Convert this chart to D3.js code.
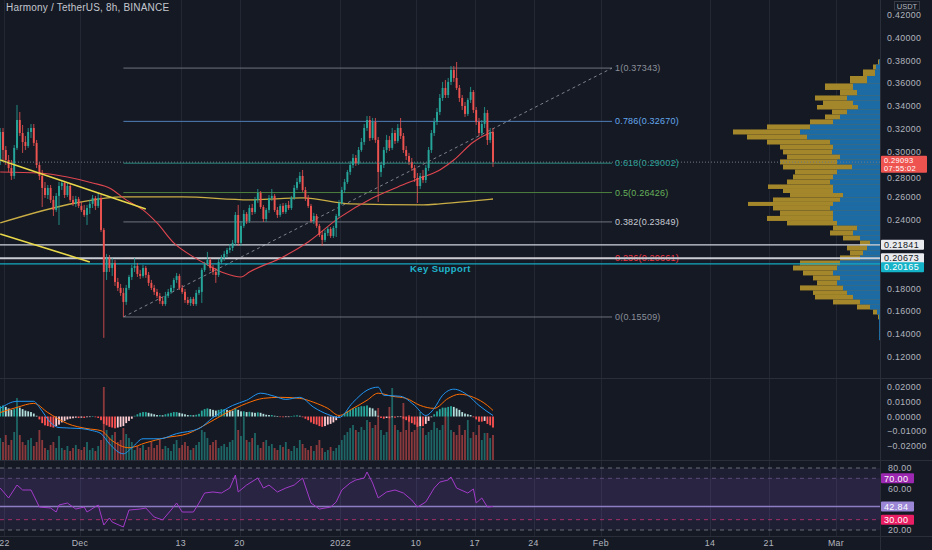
<!DOCTYPE html>
<html>
<head>
<meta charset="utf-8">
<script src="https://cdn.jsdelivr.net/npm/d3@7"></script>
<style>
html, body { margin: 0; padding: 0; background: #151924; }
svg { display: block; font-family: "Liberation Sans", Arial, sans-serif; }
</style>
</head>
<body>
<svg id="grafico" width="932" height="550"></svg>
<script>
// ---- dados ----
const titulo = "Harmony / TetherUS, 8h, BINANCE";
const inicio = new Date(2021, 10, 21, 12); // primeira vela (8h)

// [abertura, máxima, mínima, fechamento]
const velas = [
  [0.2928,0.3209,0.2884,0.3174],[0.3174,0.3209,0.2928,0.3016],[0.3016,0.3051,0.2884,0.2928],[0.2928,0.2972,0.2823,0.2858],
  [0.2858,0.2928,0.2753,0.2788],[0.2788,0.3060,0.2762,0.3034],[0.3034,0.3411,0.3016,0.3279],[0.3279,0.3349,0.3139,0.3165],
  [0.3165,0.3235,0.2990,0.3086],[0.3086,0.3139,0.3016,0.3051],[0.3051,0.3209,0.3034,0.3174],[0.3174,0.3244,0.3121,0.3209],
  [0.3209,0.3244,0.3051,0.3078],[0.3078,0.3104,0.2858,0.2884],[0.2884,0.2911,0.2753,0.2788],[0.2788,0.2841,0.2516,0.2683],
  [0.2683,0.2735,0.2595,0.2621],[0.2621,0.2709,0.2586,0.2683],[0.2683,0.2709,0.2551,0.2578],[0.2578,0.2613,0.2437,0.2490],
  [0.2490,0.2639,0.2472,0.2613],[0.2613,0.2735,0.2358,0.2700],[0.2700,0.2753,0.2665,0.2727],[0.2727,0.2744,0.2595,0.2621],
  [0.2621,0.2727,0.2604,0.2700],[0.2700,0.2718,0.2560,0.2578],[0.2578,0.2613,0.2525,0.2543],[0.2543,0.2613,0.2516,0.2586],
  [0.2586,0.2604,0.2507,0.2525],[0.2525,0.2560,0.2472,0.2490],[0.2490,0.2534,0.2429,0.2446],[0.2446,0.2534,0.2358,0.2507],
  [0.2507,0.2578,0.2455,0.2543],[0.2543,0.2621,0.2507,0.2595],[0.2595,0.2613,0.2490,0.2525],[0.2525,0.2639,0.2507,0.2595],
  [0.2595,0.2621,0.2297,0.2315],[0.2315,0.2332,0.1368,0.1946],[0.1946,0.2104,0.1876,0.2069],[0.2069,0.2095,0.1946,0.1981],
  [0.1981,0.2069,0.1911,0.2025],[0.2025,0.2051,0.1823,0.1858],[0.1858,0.1894,0.1779,0.1806],[0.1806,0.1841,0.1736,0.1762],
  [0.1762,0.1806,0.1551,0.1683],[0.1683,0.1832,0.1657,0.1806],[0.1806,0.1920,0.1788,0.1902],[0.1902,0.2008,0.1876,0.1981],
  [0.1981,0.2069,0.1946,0.1999],[0.1999,0.2025,0.1902,0.1929],[0.1929,0.1964,0.1885,0.1911],[0.1911,0.2008,0.1894,0.1981],
  [0.1981,0.1999,0.1894,0.1920],[0.1920,0.1946,0.1823,0.1850],[0.1850,0.1876,0.1788,0.1806],[0.1806,0.1832,0.1744,0.1771],
  [0.1771,0.1797,0.1718,0.1736],[0.1736,0.1762,0.1665,0.1692],[0.1692,0.1727,0.1648,0.1665],[0.1665,0.1771,0.1648,0.1736],
  [0.1736,0.1797,0.1718,0.1771],[0.1771,0.1832,0.1753,0.1806],[0.1806,0.1894,0.1779,0.1876],[0.1876,0.1937,0.1850,0.1911],
  [0.1911,0.1929,0.1788,0.1806],[0.1806,0.1832,0.1753,0.1771],[0.1771,0.1797,0.1674,0.1700],[0.1700,0.1727,0.1657,0.1674],
  [0.1674,0.1727,0.1648,0.1709],[0.1709,0.1727,0.1648,0.1665],[0.1665,0.1788,0.1648,0.1762],[0.1762,0.1815,0.1744,0.1788],
  [0.1771,0.1981,0.1674,0.1964],[0.1964,0.2034,0.1946,0.2016],[0.2016,0.2122,0.1999,0.2051],[0.2051,0.2069,0.1955,0.1981],
  [0.1981,0.2008,0.1920,0.1946],[0.1946,0.1981,0.1850,0.1920],[0.1920,0.2060,0.1902,0.2034],[0.2034,0.2095,0.2016,0.2069],
  [0.2069,0.2130,0.2043,0.2104],[0.2104,0.2157,0.2069,0.2139],[0.2139,0.2192,0.2113,0.2157],[0.2157,0.2227,0.2130,0.2201],
  [0.2201,0.2472,0.2174,0.2446],[0.2446,0.2534,0.2174,0.2201],[0.2201,0.2393,0.2174,0.2350],[0.2350,0.2490,0.2332,0.2455],
  [0.2455,0.2472,0.2367,0.2393],[0.2393,0.2534,0.2376,0.2507],[0.2507,0.2543,0.2446,0.2472],[0.2472,0.2604,0.2455,0.2578],
  [0.2578,0.2674,0.2551,0.2639],[0.2639,0.2656,0.2499,0.2516],[0.2516,0.2534,0.2385,0.2411],[0.2411,0.2507,0.2385,0.2490],
  [0.2490,0.2621,0.2464,0.2595],[0.2595,0.2674,0.2569,0.2613],[0.2613,0.2630,0.2472,0.2490],[0.2490,0.2516,0.2420,0.2446],
  [0.2446,0.2543,0.2429,0.2525],[0.2525,0.2551,0.2455,0.2472],[0.2472,0.2551,0.2455,0.2534],[0.2534,0.2569,0.2490,0.2507],
  [0.2507,0.2613,0.2490,0.2595],[0.2595,0.2709,0.2578,0.2683],[0.2683,0.2770,0.2665,0.2735],[0.2735,0.2823,0.2718,0.2788],
  [0.2788,0.2841,0.2648,0.2665],[0.2665,0.2692,0.2569,0.2595],[0.2595,0.2621,0.2507,0.2525],[0.2525,0.2543,0.2376,0.2393],
  [0.2393,0.2464,0.2367,0.2437],[0.2437,0.2455,0.2332,0.2350],[0.2350,0.2367,0.2253,0.2271],[0.2271,0.2306,0.2174,0.2227],
  [0.2227,0.2315,0.2209,0.2288],[0.2288,0.2341,0.2262,0.2323],[0.2323,0.2341,0.2244,0.2262],[0.2262,0.2350,0.2244,0.2332],
  [0.2332,0.2455,0.2253,0.2437],[0.2437,0.2578,0.2420,0.2551],[0.2551,0.2692,0.2534,0.2665],[0.2665,0.2762,0.2639,0.2735],
  [0.2735,0.2841,0.2718,0.2823],[0.2823,0.2920,0.2797,0.2884],[0.2884,0.2981,0.2858,0.2946],[0.2946,0.2972,0.2876,0.2902],
  [0.2902,0.3042,0.2884,0.3016],[0.3016,0.3121,0.2999,0.3086],[0.3086,0.3244,0.3060,0.3209],[0.3209,0.3314,0.3183,0.3279],
  [0.3279,0.3314,0.3095,0.3121],[0.3121,0.3297,0.3104,0.3262],[0.3262,0.3297,0.3078,0.3104],[0.3104,0.3130,0.2560,0.2823],
  [0.2823,0.2911,0.2779,0.2884],[0.2884,0.3042,0.2858,0.3016],[0.3016,0.3148,0.2990,0.3104],[0.3104,0.3139,0.3007,0.3034],
  [0.3034,0.3209,0.3016,0.3165],[0.3165,0.3191,0.3069,0.3095],[0.3095,0.3244,0.3078,0.3209],[0.3209,0.3297,0.3113,0.3139],
  [0.3139,0.3165,0.2990,0.3016],[0.3016,0.3051,0.2928,0.2963],[0.2963,0.2990,0.2884,0.2911],[0.2911,0.2946,0.2832,0.2858],
  [0.2858,0.2884,0.2735,0.2770],[0.2770,0.2814,0.2551,0.2700],[0.2700,0.2814,0.2674,0.2788],[0.2788,0.2841,0.2727,0.2753],
  [0.2753,0.2884,0.2727,0.2858],[0.2858,0.3042,0.2832,0.3016],[0.3016,0.3191,0.2990,0.3165],[0.3165,0.3297,0.3139,0.3262],
  [0.3262,0.3384,0.3235,0.3349],[0.3349,0.3507,0.3323,0.3472],[0.3472,0.3613,0.3446,0.3560],[0.3560,0.3630,0.3472,0.3498],
  [0.3498,0.3648,0.3472,0.3613],[0.3613,0.3753,0.3586,0.3718],[0.3718,0.3753,0.3613,0.3648],[0.3648,0.3788,0.3542,0.3560],
  [0.3560,0.3586,0.3437,0.3472],[0.3472,0.3498,0.3367,0.3402],[0.3402,0.3437,0.3306,0.3332],[0.3332,0.3472,0.3314,0.3455],
  [0.3455,0.3569,0.3428,0.3525],[0.3525,0.3542,0.3341,0.3367],[0.3367,0.3393,0.3235,0.3262],[0.3262,0.3297,0.3139,0.3165],
  [0.3165,0.3279,0.3139,0.3244],[0.3244,0.3393,0.3209,0.3341],[0.3341,0.3367,0.3060,0.3104],[0.3104,0.3209,0.3078,0.3174],
  [0.3174,0.3209,0.2867,0.29093]
];

const volumes = [
  22,18,25,15,20,28,62,25,18,15,20,22,14,18,30,20,12,10,15,18,12,24,
  12,10,14,9,12,15,11,10,13,18,10,12,9,14,20,73,30,22,25,28,18,20,32,26,22,18,
  10,14,12,15,10,13,18,12,15,20,11,14,12,9,16,20,12,15,18,14,10,12,15,18,
  30,28,22,15,18,20,12,14,16,13,18,20,52,30,24,43,
  20,18,22,27,15,12,18,20,14,16,12,10,15,13,18,11,9,14,12,20,
  16,12,10,14,9,15,20,12,8,10,13,9,12,15,20,25,28,32,
  35,30,28,33,30,40,38,32,35,52,30,25,28,53,72,35,30,28,57,30,45,28,30,38,48,
  32,25,28,30,38,32,30,35,52,48,30,28,25,35,25,30,40,22,28,25,35,20,27,27,22,25
];

const macdHist = [
  0.0070,0.0075,0.0065,0.0055,0.0045,0.0050,0.0065,0.0060,0.0050,0.0040,
  0.0035,0.0030,0.0020,0.0005,-0.0020,-0.0045,-0.0060,-0.0065,-0.0070,-0.0075,
  -0.0065,-0.0055,-0.0040,-0.0030,-0.0020,-0.0015,-0.0012,-0.0008,-0.0010,-0.0008,
  -0.0010,-0.0005,-0.0003,0.0003,-0.0005,-0.0010,-0.0025,-0.0050,-0.0060,-0.0070,
  -0.0075,-0.0080,-0.0075,-0.0070,-0.0065,-0.0045,-0.0030,-0.0015,0.0005,0.0015,
  0.0025,0.0030,0.0030,0.0025,0.0020,0.0015,0.0010,0.0010,0.0008,0.0015,
  0.0020,0.0025,0.0030,0.0030,0.0025,0.0020,0.0015,0.0010,0.0010,0.0008,
  0.0012,0.0018,0.0040,0.0050,0.0055,0.0050,0.0045,0.0040,0.0045,0.0050,
  0.0050,0.0045,0.0042,0.0040,0.0055,0.0045,0.0035,0.0035,0.0030,0.0032,
  0.0028,0.0025,0.0028,0.0025,0.0018,0.0012,0.0010,0.0010,0.0005,0.0002,
  -0.0003,-0.0005,-0.0003,-0.0002,0.0002,0.0006,0.0008,0.0005,-0.0005,-0.0015,
  -0.0025,-0.0040,-0.0050,-0.0055,-0.0065,-0.0070,-0.0065,-0.0055,-0.0050,-0.0040,
  -0.0025,-0.0010,0.0005,0.0020,0.0035,0.0045,0.0055,0.0060,0.0065,0.0070,
  0.0070,0.0075,0.0060,0.0055,0.0040,0.0005,-0.0010,-0.0015,-0.0010,-0.0012,
  -0.0005,-0.0008,-0.0003,-0.0002,-0.0015,-0.0025,-0.0035,-0.0045,-0.0055,-0.0070,
  -0.0065,-0.0065,-0.0050,-0.0030,-0.0005,0.0015,0.0035,0.0050,0.0060,0.0060,
  0.0065,0.0070,0.0065,0.0055,0.0045,0.0030,0.0020,0.0015,0.0010,-0.0005,
  -0.0020,-0.0035,-0.0035,-0.0030,-0.0050,-0.0060,-0.0075
];

const macdIdx = [0,6,12,14,18,21,29,33,36,39,44,47,51,57,63,71,76,83,88,93,98,102,107,112,117,121,126,131,135,137,143,148,152,155,158,162,167,171,176];
const macdVal = [0.0055,0.0103,0.0103,0.0062,-0.0041,-0.0075,-0.0082,-0.0096,-0.0116,-0.0185,-0.0253,-0.0212,-0.0151,-0.0151,-0.0116,-0.0082,-0.0007,0.0075,0.0110,0.0158,0.0137,0.0116,0.0130,0.0062,0.0014,-0.0007,0.0096,0.0178,0.0199,0.0144,0.0137,0.0075,0.0007,0.0055,0.0144,0.0185,0.0144,0.0075,0.0007];
const sinalIdx = [0,6,12,17,24,31,36,40,46,52,59,67,74,81,88,94,100,107,112,117,121,126,131,135,140,145,150,155,160,164,169,174,176];
const sinalVal = [0.0027,0.0062,0.0089,0.0027,-0.0048,-0.0082,-0.0096,-0.0164,-0.0212,-0.0178,-0.0144,-0.0116,-0.0048,0.0027,0.0089,0.0123,0.0130,0.0123,0.0096,0.0055,0.0007,0.0055,0.0110,0.0158,0.0137,0.0123,0.0075,0.0055,0.0123,0.0151,0.0130,0.0075,0.0041];

const rsiIdx = [0,3,6,8,11,14,18,20,21,24,27,30,31,35,37,39,40,44,46,50,52,55,58,61,63,65,69,71,73,76,79,82,84,85,88,92,94,96,99,102,105,108,111,114,118,120,122,125,127,130,131,133,135,138,141,144,147,149,152,155,157,160,161,163,167,169,170,172,174,176];
const rsiVal = [60.6,51,63.5,58.7,58.7,42.2,41.3,37.4,44.2,46.1,40.3,42.2,37.4,44.2,24.8,31.6,27.7,22.9,39.3,40.3,41.3,32.6,29.7,39.3,46.1,37.4,37.4,46.1,55.8,56.8,55.8,60.6,73.2,56.8,63.5,70.3,60.6,63.5,56.8,60.6,63.5,70.3,46.1,40.3,42.2,47.1,58.7,65.5,68.4,70.3,76.1,65.5,51,56.8,58.7,55.8,49,42.2,47.1,60.6,66.4,68.4,71.3,60.6,55.8,59.7,46.1,51,42.2,42.84];

const mmVermIdx = [0,14,24,33,39,45,51,56,62,69,74,80,86,89,101,110,121,133,142,150,157,162,169,174,176];
const mmVermVal = [0.2823,0.2814,0.2779,0.2727,0.2683,0.2578,0.2490,0.2376,0.2201,0.2078,0.2008,0.1937,0.1902,0.1946,0.2078,0.2209,0.2420,0.2595,0.2692,0.2770,0.2841,0.2928,0.3086,0.3156,0.3174];
const mmOuroIdx = [0,27,44,65,89,108,125,151,157,169,176];
const mmOuroVal = [0.2376,0.2551,0.2604,0.2604,0.2578,0.2595,0.2543,0.2534,0.2543,0.2569,0.2586];

// Fibonacci
const fibPrecos = [0.15509, 0.20661, 0.23849, 0.26426, 0.29002, 0.32670, 0.37343];
const fibRotulos = ["0(0.15509)", "0.236(0.20661)", "0.382(0.23849)", "0.5(0.26426)", "0.618(0.29002)", "0.786(0.32670)", "1(0.37343)"];
const fibLinhaCor = ["#6c707a", "#b13a45", "#6f737d", "#4d7f3d", "#2a8a7e", "#4f7fb5", "#6f737d"];
const fibTextoCor = ["#8c909a", "#f23645", "#c8ccd4", "#66b15a", "#2aa39a", "#64a8ee", "#8c909a"];
const fibInicioIdx = 44;
const fibFim = new Date(2022, 1, 2, 8);

// linhas desenhadas
const linhasHoriz = [0.21841, 0.20673, 0.20165];
const linhasHorizCor = ["#d1d4dc", "#c9ccd3", "#15a9bf"];
const tendencias = [
  { i0: 0, p0: 0.2928, i1: 52, p1: 0.2499 },
  { i0: 0, p0: 0.2279, i1: 32, p1: 0.2034 }
];

// perfil de volume (preço, total, parte azul)
const perfilPreco = [0.3788,0.3744,0.3700,0.3630,0.3569,0.3516,0.3472,0.3428,0.3393,0.3349,0.3306,0.3262,0.3218,0.3174,0.3130,0.3086,0.3042,0.2999,0.2955,0.2911,0.2867,0.2823,0.2779,0.2735,0.2692,0.2656,0.2621,0.2578,0.2543,0.2507,0.2464,0.2411,0.2376,0.2332,0.2288,0.2244,0.2201,0.2157,0.2113,0.2069,0.2025,0.1981,0.1937,0.1894,0.1850,0.1806,0.1762,0.1727,0.1683,0.1639,0.1595,0.1551,0.1510,0.1460,0.1410,0.1370];
const perfilTotal = [2,7,17,30,55,40,65,57,63,48,55,70,113,147,133,113,100,97,93,100,97,85,87,93,112,97,90,107,132,107,100,113,93,47,50,37,20,33,30,40,80,87,77,67,63,80,67,65,47,23,7,2,1,1,1,1];
const perfilAzul = [1,4,5,13,27,23,33,27,22,33,40,47,70,80,73,50,47,48,40,43,28,43,47,50,47,47,37,40,47,50,47,47,43,23,27,20,10,13,17,20,40,43,47,40,43,37,33,27,20,10,3,1,1,1,1,1];

// eixos
const ticksPreco = [0.42,0.40,0.38,0.36,0.34,0.32,0.30,0.28,0.26,0.24,0.18,0.16,0.14,0.12];
const ticksMacd = [0.02,0.01,0,-0.01,-0.02];
const ticksMacdRotulo = ["0.02000","0.01000","0.00000","\u22120.01000","\u22120.02000"];
const ticksRsi = [80, 60, 20];
const ticksData = [new Date(2021,10,22), new Date(2021,11,1), new Date(2021,11,13), new Date(2021,11,20), new Date(2022,0,1), new Date(2022,0,10), new Date(2022,0,17), new Date(2022,0,24), new Date(2022,1,1), new Date(2022,1,14), new Date(2022,1,21), new Date(2022,2,1)];
const ticksDataRotulo = ["22","Dec","13","20","2022","10","17","24","Feb","14","21","Mar"];

// ---- escalas ----
const svg = d3.select("#grafico");
const xFim = 880;
const sobe = "#26a69a", desce = "#ef5350";
const x = d3.scaleTime().domain([new Date(2021,10,21,12), new Date(2022,2,7)]).range([0.2, 886.4]);
const y = d3.scaleLinear().domain([0.12, 0.42]).range([357, 15]);
const yMacd = d3.scaleLinear().domain([-0.02, 0.02]).range([446, 387]);
const yVol = d3.scaleLinear().domain([0, 100]).range([460, 360]);
const yRsi = d3.scaleLinear().domain([20, 80]).range([530, 468]);
const xPerfil = d3.scaleLinear().domain([0, 150]).range([xFim, xFim - 150]);

const datas = velas.map((d, i) => new Date(inicio.getTime() + i * 8 * 3600 * 1000));
const xi = i => x(new Date(inicio.getTime() + i * 8 * 3600 * 1000));

svg.append("rect").attr("width", 932).attr("height", 550).attr("fill", "#151924");

const defs = svg.append("defs");
function recorte(id, y0, h) {
  defs.append("clipPath").attr("id", id).append("rect").attr("x", 0).attr("y", y0).attr("width", xFim).attr("height", h);
}
recorte("cPreco", 0, 378);
recorte("cMacd", 379, 81);
recorte("cRsi", 461, 75);

// grade vertical
svg.append("g").selectAll("line").data(ticksData).enter().append("line")
  .attr("x1", d => Math.round(x(d)) + 0.5).attr("x2", d => Math.round(x(d)) + 0.5)
  .attr("y1", 0).attr("y2", 536).attr("stroke", "#232734").attr("stroke-width", 1);

// separadores dos painéis
[378.5, 460.5, 536.5].forEach(v => {
  svg.append("line").attr("x1", 0).attr("x2", 932).attr("y1", v).attr("y2", v).attr("stroke", "#2a2e39");
});
svg.append("line").attr("x1", xFim + 0.5).attr("x2", xFim + 0.5).attr("y1", 0).attr("y2", 550).attr("stroke", "#2a2e39");

// ---- painel de preço ----
const gP = svg.append("g").attr("clip-path", "url(#cPreco)");

// perfil de volume
const bordas = perfilPreco.map((p, k) => {
  const acima = k > 0 ? (perfilPreco[k - 1] + p) / 2 : p + 0.0022;
  const abaixo = k < perfilPreco.length - 1 ? (perfilPreco[k + 1] + p) / 2 : p - 0.0022;
  return [y(acima), y(abaixo)];
});
gP.append("g").selectAll("rect").data(perfilPreco).enter().append("rect")
  .attr("x", (d, k) => xPerfil(perfilTotal[k])).attr("y", (d, k) => bordas[k][0])
  .attr("width", (d, k) => xFim - xPerfil(perfilTotal[k])).attr("height", (d, k) => bordas[k][1] - bordas[k][0])
  .attr("fill", "#a4872b");
gP.append("g").selectAll("rect").data(perfilPreco).enter().append("rect")
  .attr("x", (d, k) => xPerfil(perfilAzul[k])).attr("y", (d, k) => bordas[k][0])
  .attr("width", (d, k) => xFim - xPerfil(perfilAzul[k])).attr("height", (d, k) => bordas[k][1] - bordas[k][0])
  .attr("fill", "#1d6ba5");

// Fibonacci
const xFib0 = x(datas[fibInicioIdx]), xFib1 = x(fibFim);
fibPrecos.forEach((p, k) => {
  gP.append("line").attr("x1", xFib0).attr("x2", xFib1).attr("y1", y(p)).attr("y2", y(p))
    .attr("stroke", fibLinhaCor[k]).attr("stroke-width", 1);
  gP.append("text").attr("x", xFib1 + 3).attr("y", y(p) + 3).attr("font-size", 9)
    .attr("fill", fibTextoCor[k]).attr("letter-spacing", 0.2).text(fibRotulos[k]);
});
gP.append("line").attr("x1", xFib0).attr("y1", y(fibPrecos[0])).attr("x2", xFib1).attr("y2", y(fibPrecos[6]))
  .attr("stroke", "#80838d").attr("stroke-width", 1).attr("stroke-dasharray", "3,3");

// linhas horizontais
linhasHoriz.forEach((p, k) => {
  gP.append("line").attr("x1", 0).attr("x2", xFim).attr("y1", y(p)).attr("y2", y(p))
    .attr("stroke", linhasHorizCor[k]).attr("stroke-width", k === 1 ? 2 : 1.3);
});
gP.append("text").attr("x", 410).attr("y", y(0.20165) + 8.5).attr("font-size", 9.5).attr("font-weight", "bold")
  .attr("fill", "#1fb5cc").attr("letter-spacing", 0.4).text("Key Support");

// médias
const linhaMedia = (idx, val) => d3.line().curve(d3.curveMonotoneX).x((d, k) => xi(idx[k])).y((d, k) => y(val[k]))(idx);
gP.append("path").attr("d", linhaMedia(mmOuroIdx, mmOuroVal)).attr("fill", "none").attr("stroke", "#c9ad45").attr("stroke-width", 1.3);
gP.append("path").attr("d", linhaMedia(mmVermIdx, mmVermVal)).attr("fill", "none").attr("stroke", "#e0464f").attr("stroke-width", 1.1);

// velas
const gV = gP.append("g");
gV.selectAll("line").data(velas).enter().append("line")
  .attr("x1", (d, i) => x(datas[i])).attr("x2", (d, i) => x(datas[i]))
  .attr("y1", d => y(d[1])).attr("y2", d => y(d[2]))
  .attr("stroke", d => d[3] >= d[0] ? sobe : desce).attr("stroke-width", 0.8);
gV.selectAll("rect").data(velas).enter().append("rect")
  .attr("x", (d, i) => x(datas[i]) - 0.95).attr("width", 1.9)
  .attr("y", d => y(Math.max(d[0], d[3])))
  .attr("height", d => Math.max(1, Math.abs(y(d[0]) - y(d[3]))))
  .attr("fill", d => d[3] >= d[0] ? sobe : desce);

// linhas de tendência amarelas
tendencias.forEach(t => {
  gP.append("line").attr("x1", xi(t.i0)).attr("y1", y(t.p0)).attr("x2", xi(t.i1)).attr("y2", y(t.p1))
    .attr("stroke", "#e8d84a").attr("stroke-width", 1.6);
});

// linha do último preço
const ultimo = velas[velas.length - 1][3];
gP.append("line").attr("x1", 0).attr("x2", xFim).attr("y1", y(ultimo)).attr("y2", y(ultimo))
  .attr("stroke", "#6f7c84").attr("stroke-width", 1).attr("stroke-dasharray", "1,2");

svg.append("text").attr("x", 6).attr("y", 11).attr("font-size", 10).attr("fill", "#c3c6ce")
  .attr("letter-spacing", 0.2).text(titulo);

// ---- painel MACD ----
const gM = svg.append("g").attr("clip-path", "url(#cMacd)");
gM.selectAll(".vol").data(volumes).enter().append("rect").attr("class", "vol")
  .attr("x", (d, i) => xi(i) - 0.9).attr("width", 1.8)
  .attr("y", d => yVol(d)).attr("height", d => yVol(0) - yVol(d))
  .attr("fill", (d, i) => velas[i] && velas[i][3] >= velas[i][0] ? sobe : desce).attr("opacity", 0.55);
gM.selectAll(".hist").data(macdHist).enter().append("rect").attr("class", "hist")
  .attr("x", (d, i) => xi(i) - 0.9).attr("width", 1.8)
  .attr("y", d => yMacd(Math.max(0, d))).attr("height", d => Math.max(0.6, Math.abs(yMacd(d) - yMacd(0))))
  .attr("fill", (d, i) => {
    const ant = i > 0 ? macdHist[i - 1] : d;
    if (d >= 0) return d >= ant ? "#26a69a" : "#b2dfdb";
    return d <= ant ? "#ff5252" : "#ffcdd2";
  });
const linhaInd = (idx, val) => d3.line().curve(d3.curveMonotoneX).x((d, k) => xi(idx[k])).y((d, k) => yMacd(val[k]))(idx);
gM.append("path").attr("d", linhaInd(sinalIdx, sinalVal)).attr("fill", "none").attr("stroke", "#ff6d00").attr("stroke-width", 1);
gM.append("path").attr("d", linhaInd(macdIdx, macdVal)).attr("fill", "none").attr("stroke", "#2196f3").attr("stroke-width", 1);

// ---- painel RSI ----
const gR = svg.append("g").attr("clip-path", "url(#cRsi)");
gR.append("rect").attr("x", 0).attr("width", xFim).attr("y", yRsi(80)).attr("height", yRsi(20) - yRsi(80)).attr("fill", "rgba(126,87,194,0.10)");
gR.append("rect").attr("x", 0).attr("width", xFim).attr("y", yRsi(70)).attr("height", yRsi(30) - yRsi(70)).attr("fill", "rgba(126,87,194,0.10)");
[[80, "#6b6e78"], [70, "#5c4a78"], [30, "#a3306a"], [20, "#6b6e78"]].forEach(n => {
  gR.append("line").attr("x1", 0).attr("x2", xFim).attr("y1", yRsi(n[0])).attr("y2", yRsi(n[0]))
    .attr("stroke", n[1]).attr("stroke-dasharray", "4,4");
});
const rsiUltimo = rsiVal[rsiVal.length - 1];
gR.append("line").attr("x1", 0).attr("x2", xFim).attr("y1", yRsi(rsiUltimo)).attr("y2", yRsi(rsiUltimo))
  .attr("stroke", "#8e7cc3").attr("stroke-width", 1.5);
gR.append("path").attr("d", d3.line().x((d, k) => xi(rsiIdx[k])).y((d, k) => yRsi(rsiVal[k]))(rsiIdx))
  .attr("fill", "none").attr("stroke", "#a33bc9").attr("stroke-width", 1);

// ---- caixas de preço do eixo ----
function caixa(yc, linhas, fundo, corTexto, larg) {
  const duas = linhas.length > 1;
  const topo = duas ? yc - 6.5 : yc - 5;
  const alt = duas ? 17 : 10;
  const tam = duas ? 7.5 : 9;
  svg.append("rect").attr("x", 881).attr("y", topo).attr("width", larg).attr("height", alt).attr("rx", 1).attr("fill", fundo);
  linhas.forEach((t, k) => svg.append("text").attr("x", 884).attr("y", yc + (duas ? 0.8 : 3.2) + k * 8)
    .attr("font-size", tam).attr("letter-spacing", 0.35).attr("fill", corTexto).text(t));
  return topo + alt;
}
let yAnt = -100;
const caixasCor = [["#e9ebef", "#131722"], ["#e9ebef", "#131722"], ["#14b3c8", "#ffffff"]];
linhasHoriz.forEach((p, k) => {
  const yc = Math.max(y(p), yAnt + 9);
  caixa(yc, [d3.format(".5f")(p)], caixasCor[k][0], caixasCor[k][1], 43);
  yAnt = yc;
});
const yUltimo = y(ultimo);
const fundoCaixa = caixa(yUltimo, [d3.format(".5f")(ultimo), "07:55:02"], "#ef5350", "#ffffff", 46);
caixa(yRsi(70), ["70.00"], "#9c27b0", "#ffffff", 33);
caixa(yRsi(rsiUltimo), [d3.format(".2f")(rsiUltimo)], "#9b87d6", "#ffffff", 33);
caixa(yRsi(30), ["30.00"], "#e91e63", "#ffffff", 33);

// ---- eixos ----
const eixo = svg.append("g").attr("font-size", 8.8).attr("fill", "#b2b5be").attr("letter-spacing", 0.35);
ticksPreco.forEach(p => {
  let base = y(p) + 3;
  if (y(p) > yUltimo && base - 8 < fundoCaixa) base = fundoCaixa + 8.2; // abaixo da caixa do último preço
  eixo.append("text").attr("x", 887).attr("y", base).text(d3.format(".5f")(p));
});
ticksMacd.forEach((p, k) => eixo.append("text").attr("x", 887).attr("y", yMacd(p) + 3).text(ticksMacdRotulo[k]));
ticksRsi.forEach(p => eixo.append("text").attr("x", 888).attr("y", yRsi(p) + 3).text(d3.format(".2f")(p)));
ticksData.forEach((d, k) => eixo.append("text").attr("x", x(d)).attr("y", 546).attr("text-anchor", "middle").text(ticksDataRotulo[k]));

svg.append("rect").attr("x", 894.5).attr("y", 1.5).attr("width", 25).attr("height", 8.5).attr("fill", "#151924").attr("stroke", "#363a45");
svg.append("text").attr("x", 907).attr("y", 8.6).attr("text-anchor", "middle").attr("font-size", 7.5).attr("fill", "#b2b5be").text("USDT");
</script>
</body>
</html>
